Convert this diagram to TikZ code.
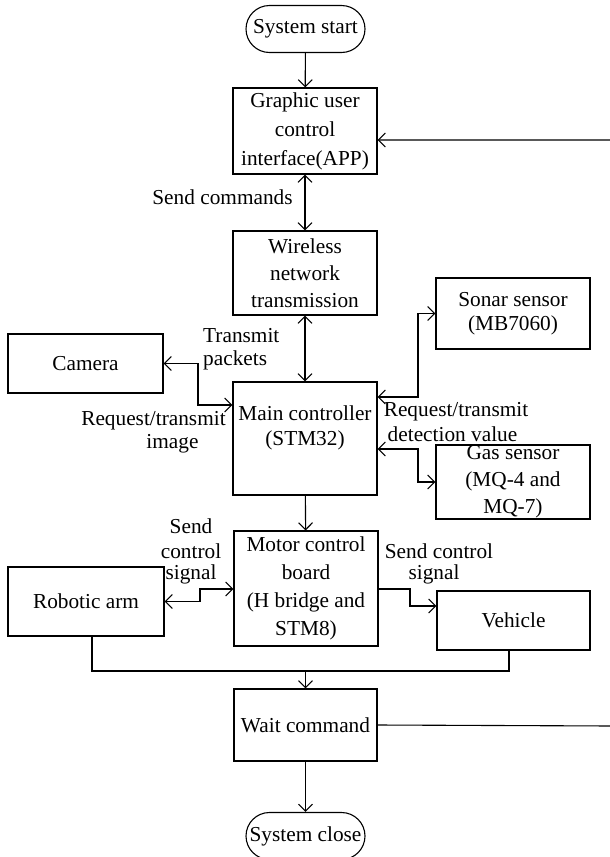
\documentclass[tikz,border=0pt]{standalone}
\usepackage{fontspec}
\setmainfont{Liberation Serif}
\usetikzlibrary{arrows.meta,calc}
\begin{document}
\begin{tikzpicture}[x=1pt,y=1pt,
  box/.style={draw, line width=1.1pt, align=center, inner sep=0pt, font=\fontsize{21.3}{27}\selectfont},
  term/.style={box, rounded corners=23.5pt, minimum width=119pt, minimum height=47pt},
  lbl/.style={inner sep=0pt, align=center, font=\fontsize{21.3}{27}\selectfont},
  ln/.style={line width=1.1pt},
  arr/.style={ln, -{Straight Barb[length=7pt,width=14pt]}},
  dbl/.style={ln, {Straight Barb[length=7pt,width=14pt]}-{Straight Barb[length=7pt,width=14pt]}}]
\useasboundingbox (0,0) rectangle (610,-857);

% nodes
\node[term] (start) at (305.5,-29) {System start};
\node[box, minimum width=144pt, minimum height=86pt, font=\fontsize{21.3}{29}\selectfont] (gui) at (305,-131) {Graphic user\\control\\interface(APP)};
\node[box, minimum width=144pt, minimum height=84pt] (wire) at (305,-273) {Wireless\\network\\transmission};
\node[box, minimum width=144pt, minimum height=113pt, font=\fontsize{21.3}{25}\selectfont] (main) at (305,-438.5) {Main controller\\(STM32)\\\mbox{}};
\node[box, minimum width=155pt, minimum height=59pt] (camera) at (85.5,-363.5) {Camera};
\node[box, minimum width=154pt, minimum height=71pt, font=\fontsize{21.3}{24}\selectfont] (sonar) at (513,-313.5) {Sonar sensor\\(MB7060)};
\node[box, minimum width=154pt, minimum height=74pt] (gas) at (513,-482) {Gas sensor\\(MQ-4 and\\MQ-7)};
\node[box, minimum width=144pt, minimum height=115pt, font=\fontsize{21.3}{28}\selectfont] (motor) at (306,-588.5) {Motor control\\board\\(H bridge and\\STM8)};
\node[box, minimum width=156pt, minimum height=69pt] (robot) at (86,-601.5) {Robotic arm};
\node[box, minimum width=153pt, minimum height=59pt] (vehicle) at (513.5,-620.5) {Vehicle};
\node[box, minimum width=143pt, minimum height=72pt] (wait) at (305.5,-725) {Wait command};
\node[term] (close) at (305.5,-836) {System close};

% labels
\node[lbl] (lsend) at (222.5,-197) {Send commands};
\node[lbl, anchor=west] (ltrans1) at (203,-336) {Transmit};
\node[lbl, anchor=west] (ltrans2) at (203,-360) {packets};
\node[lbl] (lreq1) at (153.5,-421) {Request/transmit};
\node[lbl] (lreq2) at (172.5,-444) {image};
\node[lbl] (ldet1) at (456,-412) {Request/transmit};
\node[lbl] (ldet2) at (452.5,-434) {detection value};
\node[lbl] (lsc1) at (191,-526) {Send};
\node[lbl] (lsc2) at (191,-551) {control};
\node[lbl] (lsc3) at (191,-574) {signal};
\node[lbl] (lsv1) at (439,-551) {Send control};
\node[lbl] (lsv2) at (434,-574) {signal};

% coordinates
\coordinate (r1) at (613,-726);
\coordinate (r2) at (613,-140);
\coordinate (cj) at (198,-405);
\coordinate (sj) at (418,-397);
\coordinate (gj) at (418,-449);
\coordinate (rj) at (200,-589);
\coordinate (vj) at (410,-589);
\coordinate (vk) at (410,-606);
\coordinate (m1) at (92,-671);
\coordinate (m2) at (509,-671);

% connectors
\draw[arr] (start) -- (gui);
\draw[dbl] (gui) -- (wire);
\draw[dbl] (wire) -- (main);
\draw[arr] (wait.east) -- (r1) -- (r2) -- (r2 -| gui.east);
\draw[dbl] (camera.east) -| (cj) -- (cj -| main.west);
\draw[dbl] (sj -| main.east) -- (sj) |- (sonar.west);
\draw[dbl] (gj -| main.east) -- (gj) |- (gas.west);
\draw[arr] (main) -- (motor);
\draw[dbl] (robot.east) -| (rj) -- (rj -| motor.west);
\draw[arr] (vj -| motor.east) -- (vj) -- (vk) -- (vk -| vehicle.west);
\draw[ln] (robot.south -| m1) -- (m1) -- (m2) -- (vehicle.south -| m2);
\draw[arr] (wait.north |- m1) -- (wait.north);
\draw[arr] (wait) -- (close);
\end{tikzpicture}
\end{document}
